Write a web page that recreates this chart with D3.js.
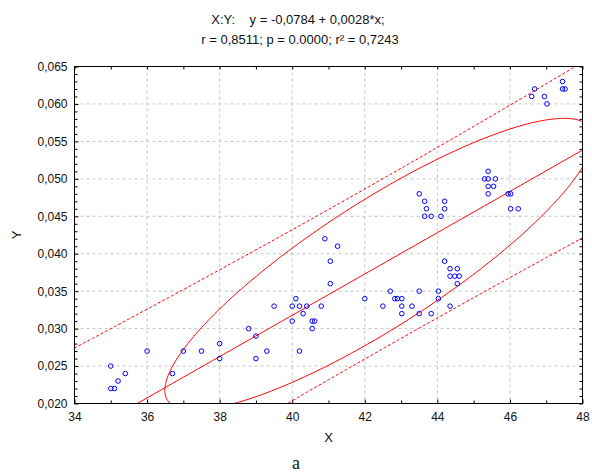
<!DOCTYPE html>
<html>
<head>
<meta charset="utf-8">
<script src="https://cdn.jsdelivr.net/npm/d3@7"></script>
<style>
  html, body { margin: 0; padding: 0; background: #fff; }
  svg text { font-family: "Liberation Sans", Arial, sans-serif; fill: #111; }
</style>
</head>
<body>
<svg id="chart" width="592" height="476"></svg>
<script>
// ---- data ----
const xValues = [35.0,35.0,35.1,35.2,35.4,36.0,36.7,37.0,37.5,38.0,38.0,38.8,39.0,39.0,39.3,39.5,
  40.0,40.0,40.1,40.2,40.3,40.4,40.2,40.55,40.62,40.55,40.8,40.9,41.25,41.05,41.05,
  42.0,42.5,42.7,42.83,42.9,43.02,43.02,43.02,43.3,43.5,43.83,43.5,44.03,44.03,44.35,
  44.2,44.35,44.55,44.35,44.48,44.6,44.55,
  43.5,43.65,43.7,43.65,43.83,44.1,44.2,44.2,
  45.4,45.3,45.4,45.6,45.4,45.55,45.4,45.95,46.02,46.02,46.23,
  46.68,46.6,46.95,47.02,47.45,47.45,47.52];
const yValues = [0.025,0.022,0.022,0.023,0.024,0.027,0.024,0.027,0.027,0.028,0.026,0.030,0.029,0.026,0.027,0.033,
  0.033,0.031,0.034,0.033,0.032,0.033,0.027,0.031,0.031,0.030,0.033,0.042,0.041,0.039,0.036,
  0.034,0.033,0.035,0.034,0.034,0.034,0.033,0.032,0.033,0.032,0.032,0.035,0.035,0.034,0.033,
  0.039,0.038,0.038,0.037,0.037,0.037,0.036,
  0.048,0.047,0.046,0.045,0.045,0.045,0.046,0.047,
  0.051,0.050,0.050,0.050,0.049,0.049,0.048,0.048,0.048,0.046,0.046,
  0.062,0.061,0.061,0.060,0.063,0.062,0.062];

const xTicks = [34,36,38,40,42,44,46,48];
const xMinorTicks = [35,37,39,41,43,45,47];
const yTicks = [0.020,0.025,0.030,0.035,0.040,0.045,0.050,0.055,0.060,0.065];
const yMinorTicks = d3.range(21, 65).filter(v => v % 5 !== 0).map(v => v / 1000);

const titleLines = ["X:Y:    y = -0,0784 + 0,0028*x;", "r = 0,8511; p = 0.0000; r\u00B2 = 0,7243"];
const xLabel = "X", yLabel = "Y", caption = "a";

// fitted statistics (as drawn in the reference)
const regression = [-0.0785, 0.002757];           // intercept, slope
const bandHalfWidth = [0.01135];                  // prediction band at the mean
const sdX = [2.43];
// 95% ellipse: center, horizontal semi-extent, tilt term, minor term
const ellipseCenter = [42.39, 0.0386];
const ellipseA = [5.9];
const ellipseD = [0.01683];
const ellipseC = [0.0098];

// ---- layout ----
const svg = d3.select("#chart");
const margin = {left: 74.5, top: 66.5};
const W = 508, H = 337;
const x = d3.scaleLinear().domain([34, 48]).range([0, W]);
const y = d3.scaleLinear().domain([0.020, 0.065]).range([H, 0]);
const g = svg.append("g").attr("transform", `translate(${margin.left},${margin.top})`);

svg.append("defs").append("clipPath").attr("id", "clip")
  .append("rect").attr("width", W).attr("height", H);

// grid
g.append("g").selectAll("line").data(xTicks.filter(d => d > 34 && d < 48)).join("line")
  .attr("x1", d => x(d)).attr("x2", d => x(d)).attr("y1", 0).attr("y2", H)
  .attr("stroke", "#c4c4c4").attr("stroke-dasharray", "3,3");
g.append("g").selectAll("line").data(yTicks.filter(d => d > 0.0201 && d < 0.0649)).join("line")
  .attr("x1", 0).attr("x2", W).attr("y1", d => y(d)).attr("y2", d => y(d))
  .attr("stroke", "#c4c4c4").attr("stroke-dasharray", "3,3");

// axes with inward ticks
const fmtY = v => d3.format(".3f")(v).replace(".", ",");
function styleAxis(sel) {
  sel.select(".domain").remove();
  sel.selectAll("text").attr("font-size", 12).attr("fill", "#111")
     .style("font-family", '"Liberation Sans", Arial, sans-serif');
  sel.selectAll("line").attr("stroke", "#000");
}
g.append("g").attr("transform", `translate(0,${H})`)
  .call(d3.axisBottom(x).tickValues(xTicks).tickSize(-4).tickPadding(9).tickFormat(d => d))
  .call(styleAxis);
g.append("g").attr("transform", `translate(0,${H})`)
  .call(d3.axisBottom(x).tickValues(xMinorTicks).tickSize(-3).tickFormat(""))
  .call(styleAxis);
g.append("g")
  .call(d3.axisTop(x).tickValues(xTicks.concat(xMinorTicks)).tickSize(-3).tickFormat(""))
  .call(styleAxis);
g.append("g")
  .call(d3.axisLeft(y).tickValues(yTicks).tickSize(-4).tickPadding(7).tickFormat(fmtY))
  .call(styleAxis);
g.append("g")
  .call(d3.axisLeft(y).tickValues(yMinorTicks).tickSize(-3).tickFormat(""))
  .call(styleAxis);
g.append("g").attr("transform", `translate(${W},0)`)
  .call(d3.axisRight(y).tickValues(yTicks.concat(yMinorTicks)).tickSize(-3).tickFormat(""))
  .call(styleAxis);

// curves
const curves = g.append("g").attr("clip-path", "url(#clip)");
const [b0, b1] = regression;
const n = xValues.length;
const Sxx = (n - 1) * sdX[0] * sdX[0];
const xs = d3.range(33.5, 48.51, 0.1);
const fit = v => b0 + b1 * v;
const half = v => bandHalfWidth[0] / Math.sqrt(1 + 1 / n) *
  Math.sqrt(1 + 1 / n + (v - ellipseCenter[0]) ** 2 / Sxx);
const line = d3.line().x(d => x(d[0])).y(d => y(d[1]));

curves.append("path").attr("d", line(xs.map(v => [v, fit(v)])))
  .attr("fill", "none").attr("stroke", "#ff0000").attr("stroke-width", 1);
[1, -1].forEach(s => {
  curves.append("path").attr("d", line(xs.map(v => [v, fit(v) + s * half(v)])))
    .attr("fill", "none").attr("stroke", "#ff0000").attr("stroke-width", 1)
    .attr("stroke-dasharray", "3,2");
});
const ts = d3.range(0, 2 * Math.PI + 0.01, Math.PI / 180);
curves.append("path")
  .attr("d", line(ts.map(t => [ellipseCenter[0] + ellipseA[0] * Math.cos(t),
    ellipseCenter[1] + ellipseD[0] * Math.cos(t) + ellipseC[0] * Math.sin(t)])))
  .attr("fill", "none").attr("stroke", "#ff0000").attr("stroke-width", 1);

// points
g.append("g").selectAll("circle").data(xValues.map((v, i) => [v, yValues[i]])).join("circle")
  .attr("cx", d => x(d[0])).attr("cy", d => y(d[1])).attr("r", 2.3)
  .attr("fill", "none").attr("stroke", "#0000ff").attr("stroke-width", 1);

// frame
g.append("rect").attr("width", W).attr("height", H)
  .attr("fill", "none").attr("stroke", "#000").attr("stroke-width", 1);

// texts
svg.append("text").attr("x", 298).attr("y", 24).attr("text-anchor", "middle")
  .attr("font-size", 13).attr("xml:space", "preserve").style("white-space", "pre").text(titleLines[0]);
svg.append("text").attr("x", 300).attr("y", 44).attr("text-anchor", "middle")
  .attr("font-size", 13).text(titleLines[1]);
svg.append("text").attr("x", margin.left + W / 2).attr("y", 442).attr("text-anchor", "middle")
  .attr("font-size", 13).text(xLabel);
svg.append("text").attr("transform", "translate(21,235) rotate(-90)").attr("text-anchor", "middle")
  .attr("font-size", 13).text(yLabel);
svg.append("text").attr("x", 296).attr("y", 469).attr("text-anchor", "middle")
  .attr("font-size", 18).style("font-family", '"Liberation Serif", "Times New Roman", serif')
  .text(caption);
</script>
</body>
</html>
